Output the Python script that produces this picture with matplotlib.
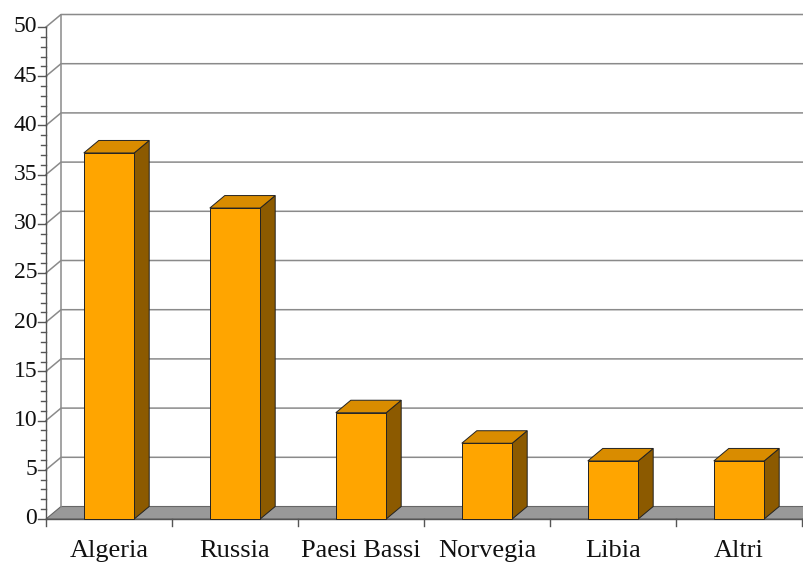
import matplotlib.pyplot as plt
from matplotlib.patches import Polygon, Rectangle

# data
countries = ["Algeria", "Russia", "Paesi Bassi", "Norvegia", "Libia", "Altri"]
shares = [37.2, 31.6, 10.8, 7.7, 5.9, 5.9]
y_ticks = list(range(0, 51, 5))
y_max = 50

# 3D look: depth offset and bar width, in data units
dx, dy = 0.119, 1.27
bar_w = 0.40

front_col = "#FFA500"
top_col = "#D98C00"
side_col = "#8C5A00"
grid_col = "#8a8a8a"
axis_col = "#555555"

plt.rcParams["font.family"] = ["Liberation Serif", "DejaVu Serif"]

fig = plt.figure(figsize=(8.04, 5.63), dpi=100)
ax = fig.add_axes([0, 0, 1, 1])
ax.set_xlim(-46 / 126, 758 / 126)
ax.set_ylim(-44 / 9.84, 519 / 9.84)
ax.axis("off")

n = len(countries)

# floor
ax.add_patch(Polygon([(0, 0), (n + 1, 0), (n + 1 + dx, dy), (dx, dy)],
                     closed=True, fc="#999999", ec="#666666", lw=0.8, zorder=1))

# left wall edge and gridlines on the back wall
ax.plot([dx, dx], [dy, y_max + dy], color=grid_col, lw=1.1, zorder=2)
for t in y_ticks[1:]:
    ax.plot([0, dx, n + 1], [t, t + dy, t + dy], color=grid_col, lw=1.1, zorder=2)

# y axis with minor and major ticks
ax.plot([0, 0], [0, y_max], color=axis_col, lw=1.0, zorder=3)
for v in range(0, y_max + 1):
    ln = 0.065 if v % 5 == 0 else 0.04
    ax.plot([-ln, 0], [v, v], color=axis_col, lw=1.0, zorder=3)
for t in y_ticks:
    ax.text(-0.07, t, str(t), ha="right", va="center", fontsize=17, color="#111111")

# x axis with ticks between categories
ax.plot([0, n + 1], [0, 0], color=axis_col, lw=1.0, zorder=3)
for b in range(0, n + 1):
    ax.plot([b, b], [0, -0.7], color=axis_col, lw=1.0, zorder=3)

# bars
for i, (name, v) in enumerate(zip(countries, shares)):
    x0 = i + 0.5 - bar_w / 2
    x1 = x0 + bar_w
    ax.add_patch(Polygon([(x1, 0), (x1 + dx, dy), (x1 + dx, v + dy), (x1, v)],
                         closed=True, fc=side_col, ec="#222222", lw=0.7, zorder=4))
    ax.add_patch(Polygon([(x0, v), (x1, v), (x1 + dx, v + dy), (x0 + dx, v + dy)],
                         closed=True, fc=top_col, ec="#222222", lw=0.7, zorder=4))
    ax.add_patch(Rectangle((x0, 0), bar_w, v, fc=front_col, ec="#222222",
                           lw=0.7, zorder=5))
    ax.text(i + 0.5, -3.86, name, ha="center", va="baseline", fontsize=19,
            color="#111111")

fig.savefig("out.png", dpi=100)
